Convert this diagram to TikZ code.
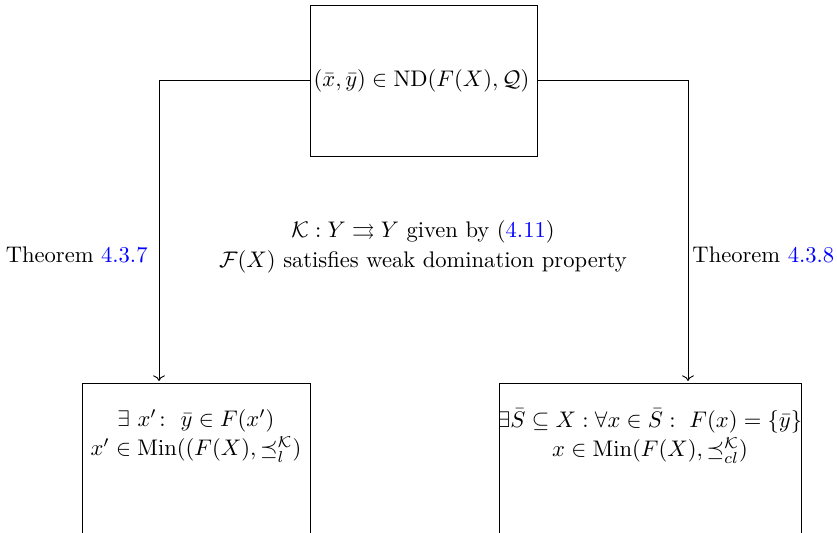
\documentclass[tikz,border=0pt]{standalone}
\usepackage{amsmath,amssymb}
\usetikzlibrary{arrows.meta}
\definecolor{refblue}{rgb}{0,0,1}
\newcommand{\myref}[1]{\textcolor{refblue}{#1}}
\newlength{\pxu}\setlength{\pxu}{0.443pt}
\begin{document}
\begin{tikzpicture}[x=\pxu,y=-\pxu,
  boxst/.style={draw,line width=0.4pt,inner sep=0pt,outer sep=0pt},
  txt/.style={inner sep=0pt,align=center,font=\normalsize},
  conn/.style={line width=0.4pt,->}]
\useasboundingbox (0,0) rectangle (837,533);
\clip (0,0) rectangle (837,533);
% top box
\node[boxst,minimum width=227\pxu,minimum height=151\pxu] (top) at (423.5,80.5) {};
\node[txt] (toptxt) at (421.5,80.5) {$(\bar{x},\bar{y})\in\mathrm{ND}(F(X),\mathcal{Q})$};
% bottom boxes
\node[boxst,anchor=north west,minimum width=228\pxu,minimum height=250\pxu] (lbox) at (82,383) {};
\node[boxst,anchor=north west,minimum width=302\pxu,minimum height=250\pxu] (rbox) at (499,383) {};
\node[txt] (ltxt) at (196,436) {$\exists\ x'\colon\ \bar{y}\in F(x')$\\[1pt] $x'\in\mathrm{Min}((F(X),\preceq_{l}^{\mathcal{K}})$};
\node[txt] (rtxt) at (650,436) {$\exists\bar{S}\subseteq X:\forall x\in\bar{S}:\ F(x)=\{\bar{y}\}$\\[1pt] $x\in\mathrm{Min}(F(X),\preceq_{cl}^{\mathcal{K}})$};
% connectors
\coordinate (lend) at (159,381);
\coordinate (rend) at (688,381);
\draw[conn] (top.west) -| (lend);
\draw[conn] (top.east) -| (rend);
% labels
\node[txt,anchor=east] (lthm) at (148,255) {Theorem \myref{4.3.7}};
\node[txt,anchor=west] (rthm) at (692,255) {Theorem \myref{4.3.8}};
\node[txt] (mid) at (423,247) {$\mathcal{K}:Y\rightrightarrows Y$ given by (\myref{4.11})\\[1pt] $\mathcal{F}(X)$ satisfies weak domination property};
\end{tikzpicture}
\end{document}
